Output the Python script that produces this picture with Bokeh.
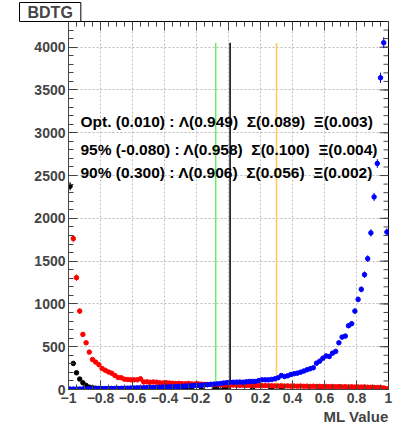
import math
from bokeh.plotting import figure
from bokeh.models import Range1d, FixedTicker, Label, Title
from bokeh.embed import file_html
from bokeh.resources import INLINE

nan = float("nan")

# ---- data -----------------------------------------------------------------
bin_centers = [round(-0.99 + 0.02 * k, 2) for k in range(100)]

# Lambda (blue)
blue_counts = [
    5, 5, 6, 6, 7, 7, 8, 8, 9, 9,
    10, 10, 11, 12, 12, 13, 14, 15, 16, 17,
    18, 19, 20, 21, 22, 23, 24, 25, 26, 28,
    29, 31, 32, 34, 36, 38, 40, 42, 44, 46,
    48, 50, 53, 56, 60, 63, 66, 70, 76, 80,
    85, 85, 86, 88, 85, 90, 94, 94, 94, 105,
    113, 113, 113, 118, 125, 137, 164, 152, 160, 176,
    184, 191, 202, 215, 230, 242, 254, 308, 331, 366,
    392, 386, 425, 445, 546, 612, 624, 745, 769, 916,
    1053, 1170, 1342, 1529, 1830, 2250, 2641, 3642, 4052, 1840,
]

# Sigma (red)
red_counts = [
    nan, 1763, 1307, 916, 644, 546, 437, 350, 320, 290,
    245, 225, 205, 191, 164, 140, 137, 120, 117, 113,
    113, 113, 125, 88, 90, 85, 88, 85, 78, 76,
    80, 75, 72, 70, 72, 68, 66, 70, 65, 64,
    66, 62, 60, 58, 60, 56, 58, 55, 52, 54,
    50, 52, 50, 48, 50, 47, 49, 46, 45, 48,
    44, 45, 43, 44, 42, 41, 43, 40, 42, 39,
    40, 38, 40, 37, 39, 36, 38, 35, 37, 34,
    36, 33, 35, 32, 34, 31, 33, 30, 32, 29,
    30, 28, 30, 27, 26, 25, 24, 22, 18, 8,
]

# Xi (black)
black_counts = [
    2375, 305, 195, 122, 78, 47, 27, 20, 15, 12,
    10, 8, 7, 6, 5, 4, 4, 3, 3, 3,
    3, 3, 3, 3, 3, nan, nan, 3, nan, 3,
    nan, nan, nan, nan, 3, 3, 3, 3, 3, nan,
    nan, 3, nan, nan, nan, 3, 3, nan, 3, 3,
    nan, nan, nan, nan, nan, nan, nan, 3, nan, nan,
    nan, nan, nan, 3, nan, nan, 3, nan, nan, nan,
    nan, nan, nan, nan, nan, nan, nan, nan, 3, nan,
    nan, nan, nan, nan, nan, nan, nan, 3, 3, nan,
    nan, nan, nan, 3, nan, nan, nan, nan, nan, nan,
]

cut_names = ["Opt.", "95%", "90%"]
cut_values = [0.010, -0.080, 0.300]
lambda_eff = [0.949, 0.958, 0.906]
sigma_eff = [0.089, 0.100, 0.056]
xi_eff = [0.003, 0.004, 0.002]

x_major = [-1, -0.8, -0.6, -0.4, -0.2, 0, 0.2, 0.4, 0.6, 0.8, 1]
x_labels = ["\u22121", "\u22120.8", "\u22120.6", "\u22120.4", "\u22120.2",
            "0", "0.2", "0.4", "0.6", "0.8", "1"]
y_major = [0, 500, 1000, 1500, 2000, 2500, 3000, 3500, 4000]
x_minor = [round(-1 + 0.05 * i, 2) for i in range(41)]
y_minor = [100 * i for i in range(44)]

# ---- style ------------------------------------------------------------------
FONT = "Liberation Sans"
X_LO, X_HI, Y_LO, Y_HI = -1, 1, 0, 4300
series = [
    (black_counts, "black"),
    (red_counts, "#ff0000"),
    (blue_counts, "#0000ff"),
]
cut_colors = ["black", "#66ee66", "#ffcc55"]
TICK_COLOR = "#444444"

p = figure(width=401, height=429, output_backend="svg", toolbar_location=None,
           x_range=Range1d(X_LO, X_HI), y_range=Range1d(Y_LO, Y_HI),
           min_border_left=68, min_border_right=13, min_border_bottom=40,
           min_border_top=2)
p.background_fill_color = "white"
p.border_fill_color = "white"
p.outline_line_color = "black"

p.title.text = "BDTG"
p.title.text_font = FONT
p.title.text_font_style = "bold"
p.title.text_font_size = "16px"
p.title.border_line_color = "black"
p.title.background_fill_color = "white"
p.title.padding = dict(x=8, y=1)
p.title.offset = -49
p.title.standoff = 0


def style_axis(ax, major, minor):
    ax.ticker = FixedTicker(ticks=major, minor_ticks=minor)
    ax.major_tick_in = 9
    ax.major_tick_out = 0
    ax.minor_tick_in = 5
    ax.minor_tick_out = 0
    ax.axis_line_color = TICK_COLOR
    ax.major_tick_line_color = TICK_COLOR
    ax.minor_tick_line_color = TICK_COLOR
    ax.major_label_text_font = FONT
    ax.major_label_text_font_style = "bold"
    ax.major_label_text_font_size = "14px"
    ax.major_label_standoff = 3


style_axis(p.xaxis[0], x_major, x_minor)
p.xaxis[0].major_label_overrides = {v: s for v, s in zip(x_major, x_labels)}
style_axis(p.yaxis[0], y_major, y_minor)

# ticks on the top and right frame edges (half of each dash is clipped away)
p.scatter(x_major, [Y_HI] * len(x_major), marker="dash", angle=math.pi / 2,
          size=18, line_color=TICK_COLOR, line_width=1)
p.scatter(x_minor, [Y_HI] * len(x_minor), marker="dash", angle=math.pi / 2,
          size=10, line_color=TICK_COLOR, line_width=1)
p.scatter([X_HI] * len(y_major), y_major, marker="dash",
          size=18, line_color=TICK_COLOR, line_width=1)
p.scatter([X_HI] * len(y_minor), y_minor, marker="dash",
          size=10, line_color=TICK_COLOR, line_width=1)

for g in (p.xgrid[0], p.ygrid[0]):
    g.grid_line_color = "#bbbbbb"
    g.grid_line_dash = "2 2"
    g.grid_line_width = 1
p.xgrid[0].ticker = FixedTicker(ticks=x_major)
p.ygrid[0].ticker = FixedTicker(ticks=y_major)

# cut lines
line_top = max(blue_counts)
p.segment(x0=cut_values, y0=[0] * 3, x1=cut_values, y1=[line_top] * 3,
          line_color=cut_colors, line_width=1.5)

# histograms with error bars
for counts, color in series:
    xs = [x for x, v in zip(bin_centers, counts) if not math.isnan(v)]
    vs = [v for v in counts if not math.isnan(v)]
    errs = [math.sqrt(v) for v in vs]
    p.segment(x0=xs, y0=[v - e for v, e in zip(vs, errs)],
              x1=xs, y1=[v + e for v, e in zip(vs, errs)],
              line_color=color, line_width=1)
    p.scatter(xs, vs, size=4.5, marker="circle", fill_color=color,
              line_color=color)

# efficiency texts
text_y = [3130, 2810, 2530]
for name, cv, l, s, xi, ty in zip(cut_names, cut_values, lambda_eff, sigma_eff, xi_eff, text_y):
    txt = f"{name} ({cv:.3f}) : \u039b({l:.3f})\u00a0\u00a0\u03a3({s:.3f})\u00a0\u00a0\u039e({xi:.3f})"
    p.add_layout(Label(x=-0.925, y=ty, text=txt, text_font=FONT,
                       text_font_style="bold", text_font_size="15.5px",
                       text_baseline="middle", text_align="left",
                       text_color="black"))

xlabel = Title(text="ML Value", align="right", text_font=FONT,
               text_font_style="bold", text_font_size="15px", standoff=0)
p.add_layout(xlabel, "below")

open("out.html", "w").write(file_html(p, INLINE))
